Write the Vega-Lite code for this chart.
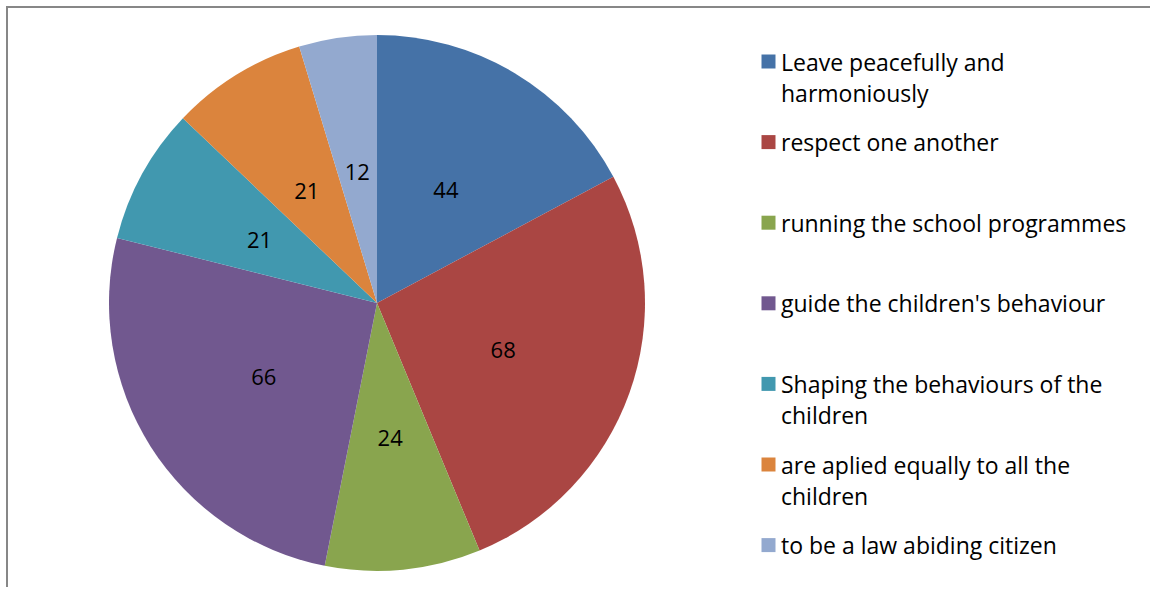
{
  "$schema": "https://vega.github.io/schema/vega-lite/v6.json",
  "width": 1143,
  "height": 580,
  "autosize": {"type": "none"},
  "padding": {"left": 7, "top": 7, "right": 0, "bottom": 0},
  "background": "white",
  "data": {
    "values": [
      {"idx": 1, "category": "Leave peacefully and harmoniously", "value": 44},
      {"idx": 2, "category": "respect one another", "value": 68},
      {"idx": 3, "category": "running the school programmes", "value": 24},
      {"idx": 4, "category": "guide the children's behaviour", "value": 66},
      {"idx": 5, "category": "Shaping the behaviours of the children", "value": 21},
      {"idx": 6, "category": "are aplied equally to all the children", "value": 21},
      {"idx": 7, "category": "to be a law abiding citizen", "value": 12}
    ]
  },
  "layer": [
    {
      "mark": {"type": "rect", "fill": null, "fillOpacity": 0, "stroke": "#878787", "strokeWidth": 2},
      "encoding": {
        "x": {"value": 0},
        "x2": {"value": 1170},
        "y": {"value": 0},
        "y2": {"value": 620}
      }
    },
    {
      "mark": {"type": "arc", "x": 370, "y": 296, "outerRadius": 268, "strokeWidth": 0},
      "encoding": {
        "theta": {"field": "value", "type": "quantitative", "stack": true},
        "order": {"field": "idx", "type": "quantitative"},
        "color": {
          "field": "category",
          "type": "nominal",
          "sort": null,
          "scale": {
            "domain": ["Leave peacefully and harmoniously", "respect one another", "running the school programmes", "guide the children's behaviour", "Shaping the behaviours of the children", "are aplied equally to all the children", "to be a law abiding citizen"],
            "range": ["#4572A7", "#AA4643", "#89A54E", "#71588F", "#4198AF", "#DB843D", "#93A9CF"]
          },
          "legend": {
            "orient": "none",
            "legendX": 750,
            "legendY": 43,
            "title": null,
            "padding": 0,
            "symbolType": "square",
            "symbolSize": 196,
            "symbolStrokeWidth": 0,
            "labelFont": "Open Sans",
            "labelFontSize": 23,
            "labelColor": "black",
            "labelLimit": 0,
            "labelBaseline": "top",
            "labelOffset": 1,
            "gridAlign": "all",
            "rowPadding": 23.6,
            "labelExpr": "datum.label == 'Leave peacefully and harmoniously' ? ['Leave peacefully and', 'harmoniously'] : datum.label == 'Shaping the behaviours of the children' ? ['Shaping the behaviours of the', 'children'] : datum.label == 'are aplied equally to all the children' ? ['are aplied equally to all the', 'children'] : datum.label",
            "encode": {"labels": {"update": {"lineHeight": {"value": 31}, "dy": {"value": -9}}}}
          }
        }
      }
    },
    {
      "mark": {"type": "text", "x": 370, "y": 296, "radius": 134, "dy": 3, "font": "Open Sans", "fontSize": 22, "color": "black"},
      "encoding": {
        "theta": {"field": "value", "type": "quantitative", "stack": true},
        "order": {"field": "idx", "type": "quantitative"},
        "detail": {"field": "category", "type": "nominal"},
        "text": {"field": "value", "type": "quantitative"}
      }
    }
  ]
}
